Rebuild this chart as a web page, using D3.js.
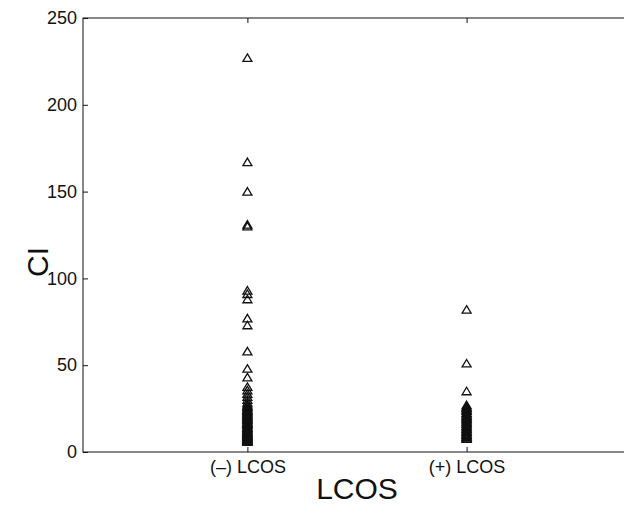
<!DOCTYPE html>
<html lang="en">
<head>
  <meta charset="UTF-8" />
  <title>CI by LCOS</title>
  <script src="https://cdnjs.cloudflare.com/ajax/libs/d3/7.8.5/d3.min.js"></script>
  <style>
    body {
      margin: 0;
      background: #fff;
      font-family: "Liberation Sans", Arial, sans-serif;
    }
    svg { display: block; }
  </style>
</head>
<body>
  <svg id="chart" width="624" height="507"></svg>

  <script>
    // groups on the x axis (positions 1 and 2)
    const categories = ["(\u2013) LCOS", "(+) LCOS"];

    // CI values
    const negValues = [227, 167, 150, 131, 130, 93, 91, 88, 77, 73, 58, 48, 43,
      37.5, 35.5, 33.5, 31.8, 30, 28.5, 27.4, 26.8, 26.2, 25.9, 25.1, 24.6, 24.1,
      23.7, 23.2, 22.8, 22.4, 21.9, 21.4, 21.1, 20.6, 20.3, 19.8, 19.4, 18.9,
      18.5, 18.2, 17.6, 17.1, 16.8, 16.4, 16.1, 15.6, 15.3, 14.7, 14.2, 13.9,
      13.5, 13.2, 12.6, 12.2, 11.8, 11.4, 11.1, 10.7, 10.4, 9.9, 9.7, 9.3, 9.1,
      8.7, 8.4, 8.1, 7.8, 7.4, 7.2, 6.9, 6.7, 6.4, 6.1, 5.8];
    const posValues = [82, 51, 35, 27, 26.1, 25.6, 25.2, 24.4, 23.9, 23.5, 22.6,
      22.1, 21.3, 20.8, 20.4, 19.7, 19.2, 18.6, 18.1, 17.3, 16.7, 16.2, 15.4,
      14.9, 14.6, 13.7, 13.3, 12.9, 12.1, 11.6, 11.3, 10.6, 10.2, 9.8, 9.1,
      8.7, 8.4, 7.9, 7.6];
    const yTicks = [0, 50, 100, 150, 200, 250];

    const series = [negValues, posValues];
    const points = series.flatMap((vals, i) => vals.map(v => ({ x: i + 1, y: v })));

    const svg = d3.select("#chart");
    const m = { left: 83, top: 18, right: 631, bottom: 452 };

    const x = d3.scaleLinear().domain([0.25, 2.75]).range([m.left, m.right]);
    const y = d3.scaleLinear().domain([0, 250]).range([m.bottom, m.top]);

    const ink = "#111";

    // box
    svg.append("rect")
      .attr("x", m.left).attr("y", m.top)
      .attr("width", m.right - m.left).attr("height", m.bottom - m.top)
      .attr("fill", "none").attr("stroke", ink).attr("stroke-width", 1);

    // y axis, ticks inside
    const yAxis = d3.axisLeft(y).tickValues(yTicks).tickSizeInner(-5).tickSizeOuter(0).tickPadding(6);
    const gy = svg.append("g").attr("transform", `translate(${m.left},0)`).call(yAxis);
    gy.select(".domain").remove();

    // x axis, ticks inside
    const xAxis = d3.axisBottom(x).tickValues([1, 2])
      .tickFormat(d => categories[d - 1]).tickSizeInner(-5).tickSizeOuter(0).tickPadding(8);
    const gx = svg.append("g").attr("transform", `translate(0,${m.bottom})`).call(xAxis);
    gx.select(".domain").remove();

    // mirrored ticks on top
    const gt = svg.append("g").attr("transform", `translate(0,${m.top})`)
      .call(d3.axisTop(x).tickValues([1, 2]).tickSizeInner(-5).tickSizeOuter(0).tickFormat(""));
    gt.select(".domain").remove();

    svg.selectAll(".tick line").attr("stroke", ink);
    svg.selectAll(".tick text")
      .attr("fill", ink)
      .style("font-family", "'Liberation Sans', Arial, sans-serif")
      .style("font-size", "18px");

    // triangle markers
    const tri = "M0,-4L4.5,3.5L-4.5,3.5Z";
    svg.append("g").selectAll("path")
      .data(points)
      .enter().append("path")
      .attr("d", tri)
      .attr("transform", d => `translate(${x(d.x)},${y(d.y)})`)
      .attr("fill", "none")
      .attr("stroke", ink)
      .attr("stroke-width", 1.3);

    // labels
    svg.append("text")
      .attr("x", 357).attr("y", 499)
      .attr("text-anchor", "middle")
      .attr("fill", ink)
      .style("font-size", "30px")
      .text("LCOS");

    svg.append("text")
      .attr("transform", "translate(48,262) rotate(-90)")
      .attr("text-anchor", "middle")
      .attr("fill", ink)
      .style("font-size", "30px")
      .text("CI");
  </script>
</body>
</html>
